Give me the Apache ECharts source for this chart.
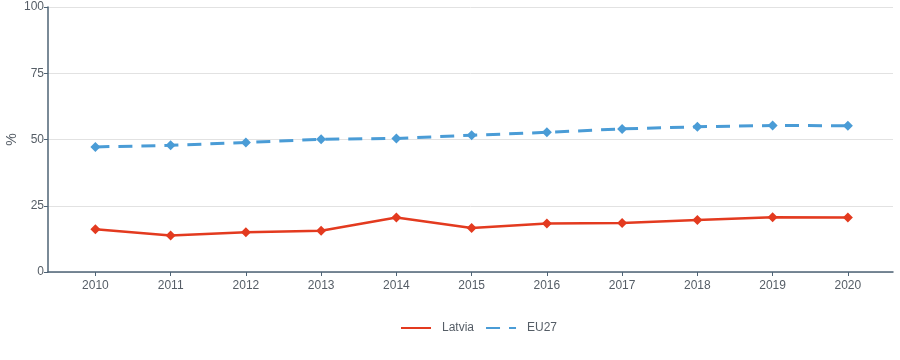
<!DOCTYPE html>
<html>
<head>
<meta charset="utf-8">
<script src="https://cdn.jsdelivr.net/npm/echarts@6/dist/echarts.min.js"></script>
<style>html,body{margin:0;padding:0;background:#fff;}#c{width:900px;height:360px;}</style>
</head>
<body>
<div id="c"></div>
<script>
var years = [2010, 2011, 2012, 2013, 2014, 2015, 2016, 2017, 2018, 2019, 2020];
var latvia = [16.1, 13.8, 15.0, 15.6, 20.6, 16.6, 18.3, 18.5, 19.6, 20.7, 20.6];
var eu27 = [47.2, 47.8, 48.9, 50.1, 50.4, 51.6, 52.7, 54.0, 54.8, 55.3, 55.2];
var yTicks = [0, 25, 50, 75, 100];

function pairs(vals) { return years.map(function (y, i) { return [y, vals[i]]; }); }

var chart = echarts.init(document.getElementById('c'), null, {renderer: 'canvas'});
var axisColor = '#4e6375';
var labelColor = '#555d66';
var font = 'Liberation Sans, Arial, sans-serif';
chart.setOption({
  animation: false,
  grid: {left: 48, right: 7, top: 7, bottom: 88, containLabel: false, outerBoundsMode: 'none'},
  xAxis: {
    type: 'value',
    min: 2009.37,
    max: 2020.6,
    axisLine: {show: true, lineStyle: {color: axisColor, width: 1.5}},
    axisTick: {show: true, customValues: years, length: 4, lineStyle: {color: axisColor}},
    axisLabel: {customValues: years, formatter: function (v) { return String(v); }, color: labelColor, fontSize: 12, fontFamily: font, margin: 8},
    splitLine: {show: false}
  },
  yAxis: {
    type: 'value',
    min: 0, max: 100, interval: 25,
    name: '%',
    nameLocation: 'middle',
    nameGap: 29,
    nameMoveOverlap: false,
    nameTextStyle: {color: labelColor, fontSize: 14, fontFamily: font},
    axisLine: {show: true, lineStyle: {color: axisColor, width: 1.5}},
    axisTick: {show: true, length: 4, lineStyle: {color: axisColor}},
    axisLabel: {customValues: yTicks, color: labelColor, fontSize: 12, fontFamily: font, margin: 4},
    splitLine: {show: true, lineStyle: {color: '#e2e2e2', width: 1}}
  },
  legend: {
    bottom: 21,
    left: 395,
    itemWidth: 30,
    itemHeight: 10,
    itemGap: 11,
    itemStyle: {opacity: 0},
    textStyle: {color: labelColor, fontSize: 12, fontFamily: font, padding: [0, 0, 0, 6]},
    data: ['Latvia', 'EU27']
  },
  series: [
    {
      name: 'Latvia', type: 'line', data: pairs(latvia),
      symbol: 'diamond', symbolSize: 10,
      lineStyle: {color: '#e33a1f', width: 2.5},
      itemStyle: {color: '#e33a1f'}
    },
    {
      name: 'EU27', type: 'line', data: pairs(eu27),
      symbol: 'diamond', symbolSize: 10,
      lineStyle: {color: '#4a9cd6', width: 3, type: [14, 9]},
      itemStyle: {color: '#4a9cd6'}
    }
  ]
});
</script>
</body>
</html>
